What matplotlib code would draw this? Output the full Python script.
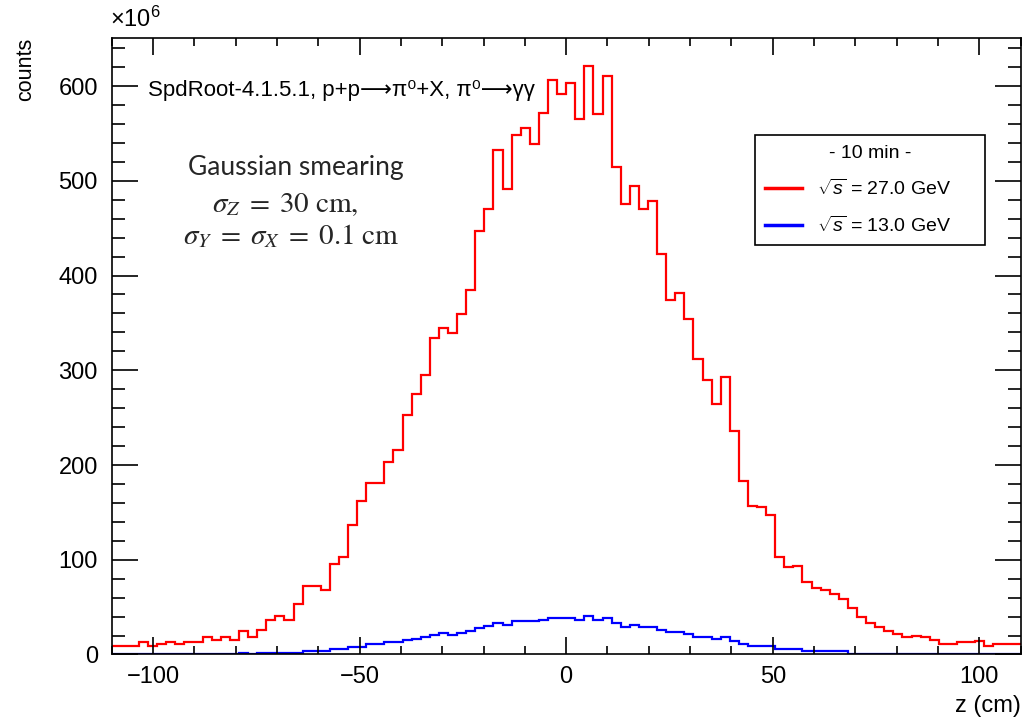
import numpy as np
import matplotlib
matplotlib.use('Agg')
import matplotlib.pyplot as plt
from matplotlib.ticker import MultipleLocator

# histogram binning: 100 bins from -110 to 110 cm
z_min, z_max, n_bins = -110, 110, 100

# counts (x10^6) per bin
counts_27 = [9, 9, 9, 13, 9, 11, 13, 11, 13, 13,
             18, 15, 18, 15, 25, 18, 26, 36, 41, 36,
             53, 72, 72, 68, 96, 103, 137, 162, 181, 181,
             203, 216, 253, 275, 295, 334, 345, 339, 359, 385,
             447, 470, 533, 491, 548, 556, 539, 572, 606, 592,
             603, 565, 621, 570, 611, 515, 475, 495, 470, 479,
             423, 374, 382, 354, 312, 290, 264, 293, 236, 183,
             157, 156, 147, 103, 92, 93, 77, 70, 68, 64,
             59, 49, 40, 33, 29, 25, 22, 18, 20, 18,
             15, 11, 11, 13, 13, 14, 9, 11, 11, 11]

counts_13 = [0, 0, 0, 0, 0, 0, 0, 0, 0, 0,
             0, 0, 0, 0, 2, 0.5, 1.5, 1.5, 1.5, 1.5,
             1.5, 4, 4, 4, 6, 6, 8, 8, 10.7, 10.7,
             12.8, 12.8, 15, 16.7, 18.5, 20.2, 22.4, 20.2, 22.4, 24.5,
             27.6, 29.8, 33.6, 31.5, 35, 35, 35, 36.4, 38.5, 38.5,
             38.5, 36.4, 40.3, 36.4, 38.5, 33.6, 29.3, 31, 29.3, 29.3,
             25.5, 24.2, 24.2, 22.1, 18.5, 18.5, 16.8, 18.5, 14.6, 11,
             9, 9, 9, 5.8, 5.8, 5.8, 3.7, 3.7, 3.7, 3.7,
             3.7, 1, 1, 1, 1, 1, 0, 0, 0, 0,
             0, 0, 0, 0, 0, 0, 0, 0, 0, 0]

labels = [r'$\sqrt{s}$ = 27.0 GeV', r'$\sqrt{s}$ = 13.0 GeV']
colors = ['#ff0000', '#0000ff']

plt.rcParams['font.family'] = ['Liberation Sans', 'DejaVu Sans']
plt.rcParams['mathtext.fontset'] = 'custom'
plt.rcParams['mathtext.rm'] = 'Liberation Sans'
plt.rcParams['mathtext.it'] = 'Liberation Sans:italic'

edges = np.linspace(z_min, z_max, n_bins + 1)

fig = plt.figure(figsize=(10.27, 7.26), dpi=100)
ax = fig.add_axes([0.1088, 0.0985, 0.885, 0.8495])

for vals, lab, col in zip([counts_27, counts_13], labels, colors):
    ax.stairs(vals, edges, baseline=None, color=col, lw=1.6, label=lab)

ax.set_xlim(z_min, z_max)
ax.set_ylim(0, 651)
ax.xaxis.set_major_locator(MultipleLocator(50))
ax.xaxis.set_minor_locator(MultipleLocator(10))
ax.yaxis.set_major_locator(MultipleLocator(100))
ax.yaxis.set_minor_locator(MultipleLocator(20))
ax.tick_params(axis='both', which='both', direction='in', top=True, right=True,
               width=1.2, labelsize=17)
ax.tick_params(axis='x', which='major', length=12, pad=8)
ax.tick_params(axis='x', which='minor', length=6)
ax.tick_params(axis='y', which='major', length=19, pad=10)
ax.tick_params(axis='y', which='minor', length=9.5)
for sp in ax.spines.values():
    sp.set_linewidth(1.2)

ax.set_xlabel('z (cm)', fontsize=17, loc='right')
ax.xaxis.set_label_coords(1.0, -0.065)
ax.set_ylabel('counts', fontsize=15.5, loc='top')
ax.yaxis.set_label_coords(-0.083, 1.0)

fig.text(0.107, 0.973, r'$\times$10$^\mathregular{6}$', fontsize=17, va='center', ha='left')

# no mathtext here so the font list can supply the long arrows
fig.text(148 / 1027, 1 - 96 / 726,
         'SpdRoot-4.1.5.1, p+p\u27f6\u03c0\u2070+X, \u03c0\u2070\u27f6\u03b3\u03b3',
         fontsize=16, ha='left', va='baseline')

fig.text(296 / 1027, 1 - 168 / 726, 'Gaussian smearing', family='Lato',
         fontsize=19, color='#262626', ha='center', va='center')
fig.text(285 / 1027, 1 - 204 / 726, r'$\sigma_Z\;=\;30\ \mathrm{cm},$', math_fontfamily='stix',
         fontsize=21, color='#262626', ha='center', va='center')
fig.text(291 / 1027, 1 - 236 / 726, r'$\sigma_Y\;=\;\sigma_X\;=\;0.1\ \mathrm{cm}$', math_fontfamily='stix',
         fontsize=21, color='#262626', ha='center', va='center')

leg = ax.legend(loc='upper left', bbox_to_anchor=(0.7077, 0.842 - 0.173, 0.253, 0.173), mode='expand',
                title='- 10 min -', fontsize=14, title_fontsize=14, fancybox=False,
                edgecolor='black', framealpha=1, handlelength=1.9, borderpad=0.5,
                labelspacing=0.85, handletextpad=0.8, borderaxespad=0)
leg.get_frame().set_linewidth(1.2)
for h in leg.get_lines():
    h.set_linewidth(2.5)

fig.savefig('out.png', dpi=100)
